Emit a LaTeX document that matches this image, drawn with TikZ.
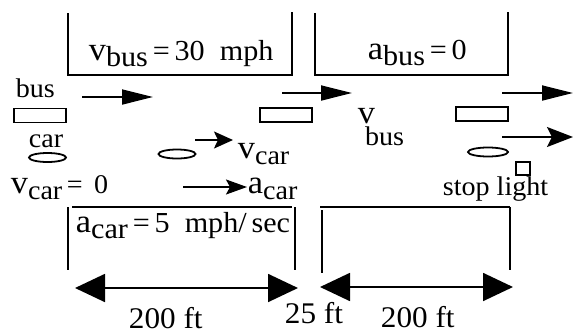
\documentclass[tikz,border=0pt]{standalone}
\usepackage{fontspec}
\setmainfont{Liberation Serif}[FakeStretch=1.04]
\usetikzlibrary{arrows.meta,shapes.geometric}

% variable with lowered subscript
\newcommand{\qsym}[2]{{\fontsize{33}{33}\selectfont #1}\raisebox{-6pt}{#2}}

\begin{document}
\begin{tikzpicture}[
    x=1pt, y=-1pt,
    line width=1.8pt,
    txt/.style={inner sep=0pt, anchor=base west, font=\fontsize{27}{29}\selectfont},
    eqtxt/.style={txt, font=\fontsize{29}{31}\selectfont},
    dimtxt/.style={txt, font=\fontsize{30}{32}\selectfont},
    busbox/.style={draw, rectangle, minimum width=52pt, minimum height=14pt, inner sep=0pt},
    carbox/.style={draw, ellipse, minimum width=37pt, minimum height=9pt, inner sep=0pt},
    lightbox/.style={draw, rectangle, minimum width=14pt, minimum height=13pt, inner sep=0pt},
    busarrow/.style={-{Triangle[length=31pt,width=15pt]}},
    cararrow/.style={-{Stealth[length=19pt,width=17pt,inset=4pt]}},
    dimarrow/.style={{Triangle[length=30pt,width=28pt]}-{Triangle[length=30pt,width=28pt]}}
]
\useasboundingbox (0,0) rectangle (573,333);

% ---- brackets for the two zones ----
\draw (68,13) |- (292,75) -- (292,12);
\draw (315,13) |- (508,75) -- (508,12);
\draw (72,207) -- (292,207);
\draw (68,207) -- (68,270);
\draw (295,207) -- (295,270);
\draw (320,207) -- (510,207);
\draw (322,210) -- (322,273);
\draw (510,207) -- (510,270);

\node[eqtxt] (vbuseq) at (88,60) {\qsym{v}{bus}\,=\,30\ \ mph};
\node[eqtxt] (abuseq) at (367,59) {\qsym{a}{bus}\,=\,0};
\node[eqtxt] (acareq) at (75,232) {\qsym{a}{car}\,=\,5\ \ mph/\,sec};

% ---- vehicles ----
\node[txt] (buslbl) at (15,97) {bus};
\node[busbox] (bus1) at (40,115.5) {};
\node[busbox] (bus2) at (286,115) {};
\node[busbox] (bus3) at (482,114) {};

\node[txt] (carlbl) at (28,147) {car};
\node[carbox] (car1) at (47.5,157.5) {};
\node[carbox] (car2) at (177,154) {};
\node[carbox, minimum width=40pt] (car3) at (488,152) {};

\node[lightbox] (light) at (523,168.5) {};
\node[txt] (lightlbl) at (442,195) {stop light};

% ---- velocities and accelerations ----
\coordinate (bv1s) at (82,97);   \coordinate (bv1e) at (153,97);
\coordinate (bv2s) at (282,93);  \coordinate (bv2e) at (352,93);
\coordinate (bv3s) at (502,93);  \coordinate (bv3e) at (573,93);
\coordinate (cv3s) at (502,137); \coordinate (cv3e) at (573,137);
\coordinate (cvs) at (195,140);  \coordinate (cve) at (233,140);
\coordinate (cas) at (183,187);  \coordinate (cae) at (247,187);

\draw[busarrow] (bv1s) -- (bv1e);
\draw[busarrow] (bv2s) -- (bv2e);
\draw[busarrow] (bv3s) -- (bv3e);
\draw[cararrow, -{Stealth[length=26pt,width=20pt,inset=5pt]}] (cv3s) -- (cv3e);
\draw[cararrow] (cvs) -- (cve);
\draw[cararrow, -{Stealth[length=21pt,width=15pt,inset=4pt]}] (cas) -- (cae);

\node[txt] (vbuslbl) at (357,123) {{\fontsize{33}{33}\selectfont v}\kern-10pt\raisebox{-22pt}{bus}};
\node[txt] (vcarlbl) at (237,158) {\qsym{v}{car}};
\node[txt] (vcar0) at (10,193) {\qsym{v}{car}\,=\ \,0};
\node[txt] (acarlbl) at (247,193) {\qsym{a}{car}};

% ---- distances ----
\coordinate (d1s) at (75,288);  \coordinate (d1e) at (298,288);
\coordinate (d2s) at (320,287); \coordinate (d2e) at (513,287);
\draw[dimarrow] (d1s) -- (d1e);
\draw[dimarrow] (d2s) -- (d2e);

\node[dimtxt] (dist1) at (128,328) {200 ft};
\node[dimtxt] (gap) at (284,323) {25 ft};
\node[dimtxt] (dist2) at (380,327) {200 ft};

\end{tikzpicture}
\end{document}
